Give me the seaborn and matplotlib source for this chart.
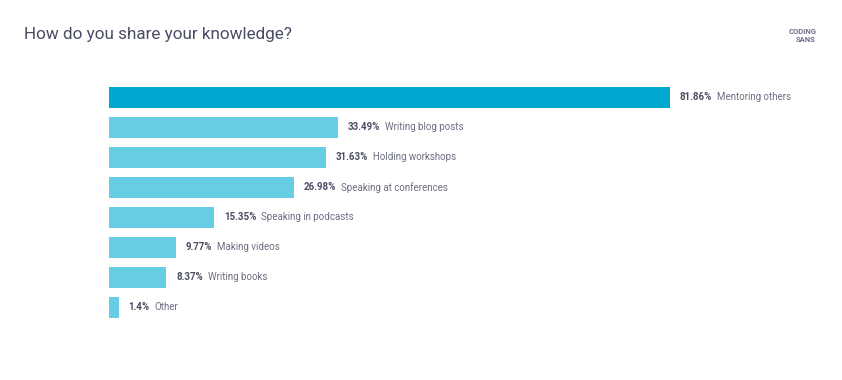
import matplotlib
matplotlib.use("Agg")
import matplotlib.pyplot as plt
import seaborn as sns
import pandas as pd

categories = ["Mentoring others", "Writing blog posts", "Holding workshops",
              "Speaking at conferences", "Speaking in podcasts", "Making videos",
              "Writing books", "Other"]
values = [81.86, 33.49, 31.63, 26.98, 15.35, 9.77, 8.37, 1.4]
value_labels = ["81.86%", "33.49%", "31.63%", "26.98%", "15.35%", "9.77%", "8.37%", "1.4%"]

df = pd.DataFrame({"category": categories, "value": values})
palette = ["#00A8CF"] + ["#66CDE2"] * (len(categories) - 1)

sns.set_style("white")
plt.rcParams["font.family"] = ["Roboto", "DejaVu Sans"]

fig = plt.figure(figsize=(8.42, 3.8), dpi=100)
ax = fig.add_axes([109 / 842, 1 - 322.5 / 380, 685 / 842, 240 / 380])

sns.barplot(data=df, x="value", y="category", hue="category", palette=palette,
            legend=False, width=0.73, saturation=1, linewidth=0, ax=ax)

ax.set_xlim(0, 100)
ax.set_ylim(len(categories) - 0.5, -0.5)
ax.axis("off")

for i, (v, vl, c) in enumerate(zip(values, value_labels, categories)):
    t = ax.annotate(vl, xy=(v, i), xytext=(7, 0), textcoords="offset points",
                    ha="left", va="center", fontsize=7, fontweight="bold",
                    color="#4b4d63")
    fig.canvas.draw()
    bb = t.get_window_extent()
    ax.annotate(c, xy=(bb.x1 + 5, (bb.y0 + bb.y1) / 2), xycoords="figure pixels",
                ha="left", va="center", fontsize=7, color="#6c6e82")

fig.text(24 / 842, 1 - 35 / 380, "How do you share your knowledge?", fontsize=12.3,
         color="#4a4c66", ha="left", va="center")
fig.text(803 / 842, 1 - 31 / 380, "CODING", fontsize=5.5, fontweight="bold",
         color="#6c6e8a", ha="center", va="center")
fig.text(806 / 842, 1 - 39 / 380, "SANS", fontsize=5.5, fontweight="bold",
         color="#6c6e8a", ha="center", va="center")

fig.savefig("out.png", dpi=100, facecolor="white")
